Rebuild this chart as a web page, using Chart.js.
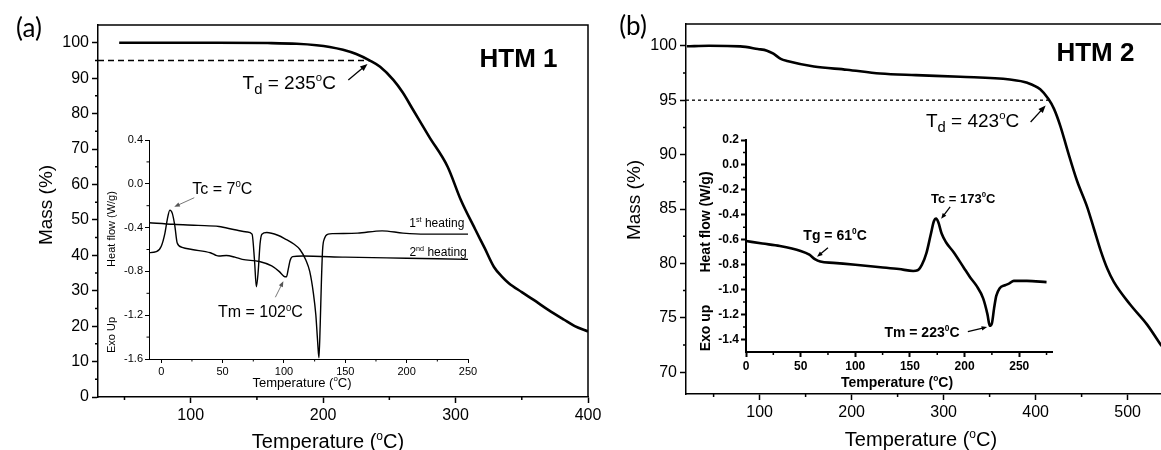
<!DOCTYPE html>
<html>
<head>
<meta charset="utf-8">
<script src="https://cdn.jsdelivr.net/npm/chart.js@4.4.1/dist/chart.umd.min.js"></script>
<style>
  html, body { margin: 0; padding: 0; background: #fff; overflow: hidden; width: 1161px; height: 450px; }
  canvas { position: absolute; }
</style>
</head>
<body>
<canvas id="tgaA" width="610" height="450" style="left:0;top:0"></canvas>
<canvas id="tgaB" width="600" height="450" style="left:600px;top:0"></canvas>
<canvas id="dscA" width="385" height="280" style="left:100px;top:115px"></canvas>
<canvas id="dscB" width="380" height="280" style="left:690px;top:115px"></canvas>
<script>
// ---- HTM 1 : TGA ----
const htm1Temp = [46, 80, 120, 158, 180, 195, 205, 215, 225, 235, 243, 253, 260, 268, 280, 294, 304, 315, 322, 329, 335, 340, 350, 359, 370, 382, 390, 400];
const htm1Mass = [100, 100, 100, 99.9, 99.7, 99.3, 98.8, 98.0, 96.8, 95.0, 93.2, 89.5, 86.0, 81.0, 73.5, 65.0, 55.6, 47.2, 42.0, 36.7, 34.0, 32.2, 29.6, 27.4, 24.6, 21.8, 20.0, 18.5];
const htm1Td = 235;
const htm1TdMass = 95;
const htm1TempTicks = [100, 200, 300, 400];
const htm1MassTicks = [0, 10, 20, 30, 40, 50, 60, 70, 80, 90, 100];

// ---- HTM 1 : DSC ----
const htm1Heat1T = [-10.6, 10, 30, 47, 60, 70, 74, 76, 77.5, 79, 80.5, 82, 86, 95, 102, 108, 113, 118, 121, 124, 126, 127.5, 128.5, 129.5, 130.5, 131.5, 133, 136, 140, 160, 180, 197, 215, 235, 250];
const htm1Heat1Q = [-0.355, -0.37, -0.38, -0.39, -0.42, -0.44, -0.46, -0.7, -0.94, -0.8, -0.55, -0.46, -0.445, -0.47, -0.51, -0.55, -0.6, -0.7, -0.8, -1.0, -1.2, -1.45, -1.59, -1.3, -0.9, -0.6, -0.5, -0.46, -0.455, -0.45, -0.43, -0.45, -0.46, -0.46, -0.46];
const htm1Heat2T = [-10.6, -4, 0, 3, 5, 7, 9, 11, 13, 17, 25, 40, 44, 47, 53, 60, 66, 80, 90, 96, 100, 102, 103.5, 105, 107, 115, 150, 200, 250];
const htm1Heat2Q = [-0.63, -0.62, -0.57, -0.45, -0.32, -0.24, -0.27, -0.38, -0.54, -0.58, -0.6, -0.63, -0.65, -0.66, -0.655, -0.67, -0.69, -0.71, -0.75, -0.8, -0.845, -0.85, -0.78, -0.7, -0.665, -0.66, -0.67, -0.68, -0.69];
const htm1DscTempTicks = [0, 50, 100, 150, 200, 250];
const htm1DscFlowTicks = [0.4, 0, -0.4, -0.8, -1.2, -1.6];

// ---- HTM 2 : TGA ----
const htm2Temp = [21, 45, 79, 98, 108, 115, 123, 130, 159, 195, 231, 270, 318, 372, 391, 405, 414, 420, 427, 435, 445, 456, 463, 471, 478, 485, 503, 521, 537];
const htm2Mass = [99.95, 100, 99.94, 99.7, 99.55, 99.27, 98.8, 98.6, 98.1, 97.8, 97.45, 97.3, 97.15, 96.9, 96.6, 96.0, 95.1, 94.2, 92.6, 90.3, 87.6, 85.2, 83.3, 81.1, 79.5, 78.3, 76.2, 74.4, 72.4];
const htm2TdLineEnd = 416;
const htm2TdMass = 95;
const htm2TempTicks = [100, 200, 300, 400, 500];
const htm2MassTicks = [70, 75, 80, 85, 90, 95, 100];

// ---- HTM 2 : DSC ----
const htm2DscT = [0, 15, 31, 50, 58, 63, 68, 80, 100, 123, 140, 153, 157, 161, 165, 169, 172, 174, 176, 179, 183, 190, 199, 205, 211, 217, 221, 223, 225, 227, 229, 232, 237, 241, 245, 257, 275];
const htm2DscQ = [-0.61, -0.63, -0.65, -0.69, -0.72, -0.755, -0.775, -0.785, -0.8, -0.82, -0.835, -0.85, -0.845, -0.8, -0.71, -0.56, -0.45, -0.43, -0.46, -0.55, -0.62, -0.7, -0.82, -0.9, -0.97, -1.07, -1.2, -1.29, -1.27, -1.15, -1.05, -0.99, -0.965, -0.95, -0.93, -0.93, -0.94];
const htm2DscTempTicks = [0, 50, 100, 150, 200, 250];
const htm2DscFlowTicks = [0.2, 0, -0.2, -0.4, -0.6, -0.8, -1.0, -1.2, -1.4];

const SANS = '"Liberation Sans", Arial, sans-serif';

function drawRich(ctx, t, x, y) {
  const size = t.size, wt = t.bold ? 'bold' : 'normal', fam = t.family || SANS;
  const segs = t.parts.map(p => {
    const mode = p[1] || '';
    const s = mode === 'sup' ? size * 0.6 : mode === 'sub' ? size * 0.78 : size;
    const f = wt + ' ' + s + 'px ' + fam;
    ctx.font = f;
    return { text: p[0], mode, f, w: ctx.measureText(p[0]).width };
  });
  const total = segs.reduce((a, s) => a + s.w, 0);
  let cx = t.align === 'right' ? x - total : t.align === 'left' ? x : x - total / 2;
  const base = y + size * 0.36;
  segs.forEach(s => {
    ctx.font = s.f;
    const dy = s.mode === 'sup' ? -size * 0.4 : s.mode === 'sub' ? size * 0.3 : 0;
    ctx.fillText(s.text, cx, base + dy);
    cx += s.w;
  });
}

function arrow(ctx, x1, y1, x2, y2, color, lw, head) {
  const a = Math.atan2(y2 - y1, x2 - x1);
  ctx.strokeStyle = color; ctx.fillStyle = color; ctx.lineWidth = lw;
  ctx.beginPath();
  ctx.moveTo(x1, y1);
  ctx.lineTo(x2 - Math.cos(a) * head * 0.6, y2 - Math.sin(a) * head * 0.6);
  ctx.stroke();
  ctx.beginPath();
  ctx.moveTo(x2, y2);
  ctx.lineTo(x2 - head * Math.cos(a - 0.38), y2 - head * Math.sin(a - 0.38));
  ctx.lineTo(x2 - head * Math.cos(a + 0.38), y2 - head * Math.sin(a + 0.38));
  ctx.closePath();
  ctx.fill();
}

// frame, minor ticks, arrows and labels
function decor(d) {
  return {
    id: 'decor',
    afterDraw(chart) {
      const { ctx, chartArea: ca, scales: { x, y } } = chart;
      ctx.save();
      ctx.strokeStyle = '#000';
      ctx.lineWidth = d.lw;
      ctx.beginPath();
      if (d.frame) {
        ctx.moveTo(ca.left, ca.top); ctx.lineTo(ca.right, ca.top); ctx.lineTo(ca.right, ca.bottom);
      }
      d.minorX.forEach(v => { const p = x.getPixelForValue(v); ctx.moveTo(p, ca.bottom); ctx.lineTo(p, ca.bottom + d.minorLen); });
      d.minorY.forEach(v => { const p = y.getPixelForValue(v); ctx.moveTo(ca.left, p); ctx.lineTo(ca.left - d.minorLen, p); });
      ctx.stroke();
      d.arrows.forEach(a => arrow(ctx, x.getPixelForValue(a.from[0]), y.getPixelForValue(a.from[1]),
        x.getPixelForValue(a.to[0]), y.getPixelForValue(a.to[1]), a.color || '#000', a.lw, a.head));
      ctx.fillStyle = '#000';
      ctx.textAlign = 'left';
      ctx.textBaseline = 'alphabetic';
      d.texts.forEach(t => {
        const px = t.at ? x.getPixelForValue(t.at[0]) : t.px[0];
        const py = t.at ? y.getPixelForValue(t.at[1]) : t.px[1];
        if (t.rot) {
          ctx.save(); ctx.translate(px, py); ctx.rotate(-Math.PI / 2); drawRich(ctx, t, 0, 0); ctx.restore();
        } else {
          drawRich(ctx, t, px, py);
        }
      });
      ctx.restore();
    }
  };
}

function axis(o) {
  return {
    type: 'linear', min: o.min, max: o.max, position: o.pos,
    afterBuildTicks: s => { s.ticks = o.ticks.map(v => ({ value: v })); },
    afterFit: s => { if (o.pos === 'left') s.width = o.size; else s.height = o.size; },
    grid: { display: true, drawOnChartArea: false, drawTicks: true, tickLength: o.tickLen, tickWidth: o.lw, color: '#000' },
    border: { display: true, color: '#000', width: o.lw },
    ticks: { autoSkip: false, maxRotation: 0, padding: o.labelPad, color: '#000', font: o.font, callback: o.fmt || (v => String(v)) },
    title: { display: false }
  };
}

function line(xs, ys, width, dash) {
  return {
    data: xs.map((v, i) => ({ x: v, y: ys[i] })),
    borderColor: '#000', borderWidth: width, borderDash: dash || [],
    pointRadius: 0, fill: false, tension: 0,
    cubicInterpolationMode: dash ? 'default' : 'monotone'
  };
}

function makeChart(id, datasets, pad, xAxis, yAxis, d) {
  return new Chart(document.getElementById(id), {
    type: 'line',
    data: { datasets },
    options: {
      responsive: false, animation: false, devicePixelRatio: 1,
      layout: { padding: pad },
      plugins: { legend: { display: false }, tooltip: { enabled: false } },
      scales: { x: axis(xAxis), y: axis(yAxis) }
    },
    plugins: [decor(d)]
  });
}

const mainFont = { family: SANS, size: 16 };
const degC = [['Temperature ('], ['o', 'sup'], ['C)']];

// (a) HTM 1 TGA
makeChart('tgaA',
  [line(htm1Temp, htm1Mass, 2.6), line([30, htm1Td], [htm1TdMass, htm1TdMass], 1.6, [6, 4])],
  { left: 0, top: 25, right: 22, bottom: 0 },
  { min: 30, max: 400, pos: 'bottom', ticks: htm1TempTicks, size: 53, tickLen: 6, lw: 1.5, labelPad: 3, font: mainFont },
  { min: 0, max: 105, pos: 'left', ticks: htm1MassTicks, size: 98, tickLen: 6, lw: 1.5, labelPad: 3, font: mainFont },
  {
    frame: true, lw: 1.5, minorLen: 3,
    minorX: [50, 150, 250, 350],
    minorY: [5, 15, 25, 35, 45, 55, 65, 75, 85, 95],
    arrows: [{ from: [219, 89.5], to: [233.5, 94], lw: 1.3, head: 8 }],
    texts: [
      { at: [347.5, 95.8], parts: [['HTM 1']], size: 26, bold: true },
      { at: [174.4, 89], parts: [['T'], ['d', 'sub'], [' = 235'], ['o', 'sup'], ['C']], size: 19 },
      { px: [45, 205], rot: true, parts: [['Mass (%)']], size: 19 },
      { px: [328, 441], parts: degC, size: 20 },
      { px: [29, 28], parts: [['(a)']], size: 26, family: 'Lato, "Open Sans", sans-serif' }
    ]
  });

// (b) HTM 2 TGA
makeChart('tgaB',
  [line(htm2Temp, htm2Mass, 2.6), line([20, htm2TdLineEnd], [htm2TdMass, htm2TdMass], 1.3, [3, 3])],
  { left: 0, top: 24, right: 17.2, bottom: 0 },
  { min: 20, max: 560, pos: 'bottom', ticks: htm2TempTicks, size: 56, tickLen: 6, lw: 1.5, labelPad: 3, font: mainFont },
  { min: 68, max: 102, pos: 'left', ticks: htm2MassTicks, size: 86, tickLen: 6, lw: 1.5, labelPad: 3, font: mainFont },
  {
    frame: true, lw: 1.5, minorLen: 3,
    minorX: [50, 150, 250, 350, 450, 550],
    minorY: [72.5, 77.5, 82.5, 87.5, 92.5, 97.5],
    arrows: [{ from: [394.6, 93.0], to: [410.9, 94.5], lw: 1.3, head: 8 }],
    texts: [
      { at: [465, 99.45], parts: [['HTM 2']], size: 26, bold: true },
      { at: [331.5, 93.2], parts: [['T'], ['d', 'sub'], [' = 423'], ['o', 'sup'], ['C']], size: 19 },
      { px: [33, 200], rot: true, parts: [['Mass (%)']], size: 19 },
      { px: [321, 439], parts: degC, size: 20 },
      { px: [33, 26], parts: [['(b)']], size: 26, family: 'Lato, "Open Sans", sans-serif' }
    ]
  });

// inset (a) HTM 1 DSC
const insetFontA = { family: SANS, size: 11 };
makeChart('dscA',
  [line(htm1Heat1T, htm1Heat1Q, 1.4), line(htm1Heat2T, htm1Heat2Q, 1.4)],
  { left: 0, top: 25, right: 17, bottom: 0 },
  { min: -10, max: 250, pos: 'bottom', ticks: htm1DscTempTicks, size: 36, tickLen: 4, lw: 1, labelPad: 2, font: insetFontA },
  { min: -1.6, max: 0.4, pos: 'left', ticks: htm1DscFlowTicks, size: 49, tickLen: 4, lw: 1, labelPad: 2, font: insetFontA, fmt: v => v.toFixed(1) },
  {
    frame: false, lw: 1, minorLen: 2.5,
    minorX: [25, 75, 125, 175, 225],
    minorY: [0.2, -0.2, -0.6, -1.0, -1.4],
    arrows: [
      { from: [26.9, -0.127], to: [10.6, -0.21], lw: 0.8, head: 6, color: '#555' },
      { from: [93, -1.036], to: [99.5, -0.89], lw: 0.8, head: 6, color: '#555' }
    ],
    texts: [
      { at: [49.8, -0.036], parts: [['Tc = 7'], ['0', 'sup'], ['C']], size: 16 },
      { at: [80.8, -1.164], parts: [['Tm = 102'], ['0', 'sup'], ['C']], size: 16 },
      { at: [247, -0.355], align: 'right', parts: [['1'], ['st', 'sup'], [' heating']], size: 12 },
      { at: [249, -0.62], align: 'right', parts: [['2'], ['nd', 'sup'], [' heating']], size: 12 },
      { px: [11, 114], rot: true, parts: [['Heat flow (W/g)']], size: 11 },
      { px: [11, 220], rot: true, parts: [['Exo Up']], size: 11 },
      { px: [202, 267], parts: degC, size: 13 }
    ]
  });

// inset (b) HTM 2 DSC
const insetFontB = { family: SANS, size: 12, weight: 'bold' };
makeChart('dscB',
  [line(htm2DscT, htm2DscQ, 2.6)],
  { left: 0, top: 25, right: 18, bottom: 0 },
  { min: 0, max: 280, pos: 'bottom', ticks: htm2DscTempTicks, size: 43, tickLen: 5, lw: 2, labelPad: 2, font: insetFontB },
  { min: -1.5, max: 0.2, pos: 'left', ticks: htm2DscFlowTicks, size: 56, tickLen: 5, lw: 2, labelPad: 2, font: insetFontB, fmt: v => v.toFixed(1) },
  {
    frame: false, lw: 1.5, minorLen: 3,
    minorX: [25, 75, 125, 175, 225, 275],
    minorY: [0.1, -0.1, -0.3, -0.5, -0.7, -0.9, -1.1, -1.3],
    arrows: [
      { from: [75, -0.664], to: [65, -0.736], lw: 1.3, head: 6 },
      { from: [186.8, -0.336], to: [178.6, -0.432], lw: 1.3, head: 6 },
      { from: [203, -1.336], to: [220.7, -1.30], lw: 1.3, head: 6 }
    ],
    texts: [
      { at: [81.5, -0.56], parts: [['Tg = 61'], ['0', 'sup'], ['C']], size: 14, bold: true },
      { at: [198.7, -0.264], parts: [['Tc = 173'], ['0', 'sup'], ['C']], size: 13, bold: true },
      { at: [161, -1.336], parts: [['Tm = 223'], ['0', 'sup'], ['C']], size: 14, bold: true },
      { px: [15, 107], rot: true, parts: [['Heat flow (W/g)']], size: 14, bold: true },
      { px: [15, 213], rot: true, parts: [['Exo up']], size: 14, bold: true },
      { px: [207, 267], parts: degC, size: 14, bold: true }
    ]
  });
</script>
</body>
</html>
